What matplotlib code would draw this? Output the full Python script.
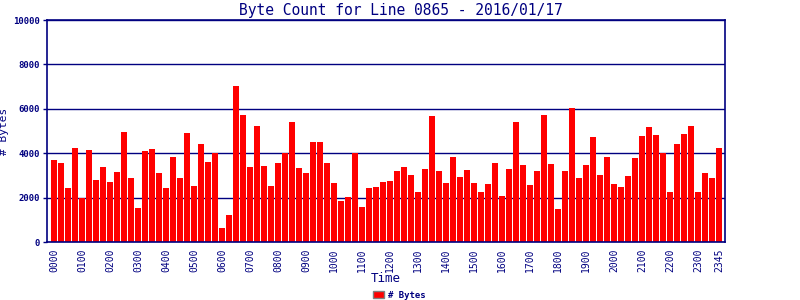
import matplotlib
matplotlib.use("Agg")
import matplotlib.pyplot as plt
from matplotlib.patches import Patch

values = [3700, 3570, 2450, 4250, 1980, 4150, 2800, 3390, 2720, 3170, 4970, 2900,
          1550, 4110, 4200, 3120, 2450, 3840, 2900, 4920, 2540, 4430, 3620, 4000,
          650, 1230, 7030, 5730, 3390, 5240, 3440, 2540, 3570, 4000, 5420, 3350,
          3120, 4520, 4520, 3570, 2670, 1860, 2040, 4000, 1590, 2450, 2490, 2720,
          2760, 3210, 3390, 3030, 2270, 3300, 5690, 3210, 2670, 3840, 2940, 3260,
          2670, 2270, 2630, 3570, 2090, 3300, 5420, 3480, 2580, 3210, 5730, 3530,
          1500, 3210, 6050, 2900, 3480, 4740, 3030, 3840, 2630, 2490, 2990, 3800,
          4790, 5190, 4830, 4000, 2270, 4430, 4880, 5240, 2270, 3120, 2900, 4250]
times = [f"{h:02d}{m:02d}" for h in range(24) for m in (0, 15, 30, 45)]
tick_labels = [f"{h:02d}00" for h in range(24)] + ["2345"]
y_ticks = [0, 2000, 4000, 6000, 8000, 10000]

navy = "#000080"
mono = "DejaVu Sans Mono"

fig = plt.figure(figsize=(8, 3), dpi=100)
ax = fig.add_axes([46.5 / 800, 58 / 300, (725 - 46.5) / 800, 222 / 300])

x = list(range(len(values)))
ax.bar(x, values, width=0.86, color="#ff0000", zorder=3, label="# Bytes")

ax.set_xlim(-1.07, 95.86)
ax.set_ylim(0, 10000)
ax.set_yticks(y_ticks)
ax.set_yticklabels([str(v) for v in y_ticks], fontfamily=mono, fontweight="bold",
                   fontsize=6.5, color=navy)
tick_pos = [times.index(t) for t in tick_labels]
ax.set_xticks(tick_pos)
ax.set_xticklabels(tick_labels, rotation=90, fontfamily=mono, fontsize=7, color=navy)
ax.tick_params(axis="x", length=0, pad=5)
ax.tick_params(axis="y", length=3, width=1, color=navy, pad=2)

ax.grid(axis="y", color=navy, linewidth=1, zorder=1)
for s in ax.spines.values():
    s.set_color(navy)
    s.set_linewidth(1.2)
    s.set_zorder(4)

fig.text(401 / 800, 1 - 10 / 300, "Byte Count for Line 0865 - 2016/01/17",
         fontfamily=mono, fontsize=10.5, color=navy, ha="center", va="center")
ax.set_xlabel("Time", fontfamily=mono, fontsize=9, color=navy)
ax.xaxis.set_label_coords(0.5, -0.135)
ax.set_ylabel("# Bytes", fontfamily=mono, fontsize=8, color=navy)
ax.yaxis.set_label_coords(-0.056, 0.5)

handle = Patch(facecolor="#ff0000", edgecolor="#808080", linewidth=1, label="# Bytes")
fig.legend(handles=[handle], loc="center", bbox_to_anchor=(399 / 800, 1 - 295 / 300),
           frameon=False, prop={"family": mono, "weight": "bold", "size": 6.5},
           labelcolor=navy, handlelength=1.3, handleheight=0.9, handletextpad=0.4,
           borderpad=0)

fig.savefig("out.png", dpi=100)
